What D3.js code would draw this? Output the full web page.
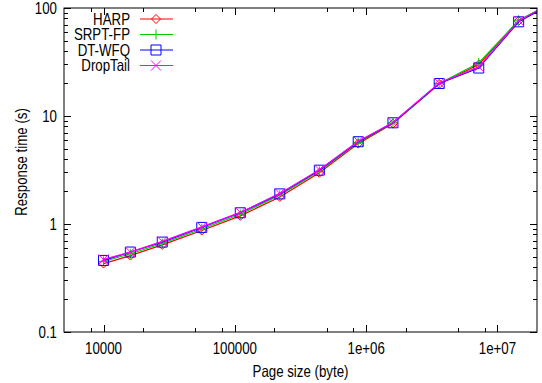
<!DOCTYPE html>
<html>
<head>
<meta charset="utf-8">
<script src="https://cdn.jsdelivr.net/npm/d3@7"></script>
<style>
  body { margin: 0; background: #fff; }
  svg { font-family: "Liberation Sans", Arial, sans-serif; }
</style>
</head>
<body>
<svg width="542" height="383"></svg>
<script>
// page sizes (bytes) and response times (s)
const pageSizes = [10000, 16000, 28000, 56000, 110000, 220000, 440000, 870000, 1600000, 3600000, 7200000, 14500000, 29000000];
const harp     = [0.43, 0.51, 0.64, 0.87, 1.19, 1.78, 2.98, 5.55, 8.50, 19.8, 30.0, 76.0, 120];
const srptFp   = [0.45, 0.53, 0.66, 0.90, 1.23, 1.85, 3.08, 5.70, 8.60, 20.0, 31.0, 77.0, 120];
const dtWfq    = [0.46, 0.55, 0.68, 0.93, 1.27, 1.90, 3.15, 5.78, 8.65, 20.0, 27.8, 74.5, 118];
const dropTail = [0.47, 0.55, 0.69, 0.94, 1.28, 1.92, 3.18, 5.85, 8.70, 20.2, 28.5, 76.0, 120];

const xTicks = [10000, 100000, 1e6, 1e7];
const xTickLabels = ['10000', '100000', '1e+06', '1e+07'];
const yTicks = [0.1, 1, 10, 100];
const yTickLabels = ['0.1', '1', '10', '100'];

const series = [
  {name: 'HARP', values: harp, color: '#ff0000', shape: 'diamond'},
  {name: 'SRPT-FP', values: srptFp, color: '#00cc00', shape: 'plus'},
  {name: 'DT-WFQ', values: dtWfq, color: '#0000ff', shape: 'square'},
  {name: 'DropTail', values: dropTail, color: '#ff00ff', shape: 'cross'}
];

const svg = d3.select('svg');
const margin = {left: 64, top: 8, right: 5, bottom: 51};
const width = +svg.attr('width') - margin.left - margin.right;
const height = +svg.attr('height') - margin.top - margin.bottom;

const xScale = d3.scaleLog().domain([5000, 2e7]).range([0, width]);
const yScale = d3.scaleLog().domain([0.1, 100]).range([height, 0]);

const g = svg.append('g').attr('transform', `translate(${margin.left},${margin.top})`);

g.append('clipPath').attr('id', 'clip')
  .append('rect').attr('width', width).attr('height', height);

// gnuplot-ish text: a bit narrow and tall
const label = (sel, x, y, txt, anchor, rot) => sel.append('text')
  .attr('transform', `translate(${x},${y})${rot ? ' rotate(' + rot + ')' : ''} scale(0.95,1.12)`)
  .attr('text-anchor', anchor).attr('font-size', 14).text(txt);

// minor ticks: x at 2,5,8 per decade, y at 2..9
const xMinor = [];
[1000, 10000, 100000, 1e6, 1e7].forEach(d => [2, 5, 8].forEach(m => {
  const v = d * m; if (v > 5000 && v < 2e7) xMinor.push(v);
}));
const yMinor = [];
[0.1, 1, 10].forEach(d => d3.range(2, 10).forEach(m => yMinor.push(d * m)));

const tickG = g.append('g').attr('stroke', '#000').attr('stroke-width', 1);
const bigT = 7, smallT = 4;
xTicks.concat(xMinor).forEach(v => {
  const len = xTicks.includes(v) ? bigT : smallT;
  const x = Math.round(xScale(v)) + 0.5;
  tickG.append('line').attr('x1', x).attr('x2', x).attr('y1', height).attr('y2', height - len);
  tickG.append('line').attr('x1', x).attr('x2', x).attr('y1', 0).attr('y2', len);
});
yTicks.concat(yMinor).forEach(v => {
  const len = yTicks.includes(v) ? bigT : smallT;
  const y = Math.round(yScale(v)) + 0.5;
  tickG.append('line').attr('y1', y).attr('y2', y).attr('x1', 0).attr('x2', len);
  tickG.append('line').attr('y1', y).attr('y2', y).attr('x1', width).attr('x2', width - len);
});

// tick labels
xTicks.forEach((d, i) => label(g, xScale(d), height + 22, xTickLabels[i], 'middle'));
yTicks.forEach((d, i) => label(g, -7, yScale(d) + 5.5, yTickLabels[i], 'end'));

label(g, width / 2, height + 45, 'Page size (byte)', 'middle');
label(g, -37, height / 2 - 8, 'Response time (s)', 'middle', -90);

// markers
const drawMarker = (sel, shape, color) => {
  if (shape === 'diamond') sel.append('path').attr('d', 'M0,-4.5L4.5,0L0,4.5L-4.5,0Z').attr('fill', 'none').attr('stroke', color);
  if (shape === 'plus') sel.append('path').attr('d', 'M-5,0H5M0,-5V5').attr('stroke', color);
  if (shape === 'square') sel.append('path').attr('d', 'M-5,-5H5V5H-5Z').attr('fill', 'none').attr('stroke', color);
  if (shape === 'cross') sel.append('path').attr('d', 'M-5,-5L5,5M-5,5L5,-5').attr('stroke', color);
};

const line = d3.line().x(d => xScale(d[0])).y(d => yScale(d[1]));
const plot = g.append('g').attr('clip-path', 'url(#clip)');
series.forEach(s => {
  const pts = pageSizes.map((p, i) => [p, s.values[i]]);
  plot.append('path').datum(pts).attr('d', line)
    .attr('fill', 'none').attr('stroke', s.color).attr('stroke-width', 1.2);
  pts.filter(p => p[0] <= 2e7).forEach(p => {
    const m = plot.append('g').attr('transform', `translate(${xScale(p[0])},${yScale(p[1])})`);
    drawMarker(m, s.shape, s.color);
  });
});

// frame
g.append('rect').attr('width', width).attr('height', height)
  .attr('fill', 'none').attr('stroke', '#000').attr('stroke-width', 1);

// legend
const leg = g.append('g');
series.forEach((s, i) => {
  const y = 11 + i * 15.5;
  label(leg, 66, y + 5.5, s.name, 'end');
  leg.append('line').attr('x1', 76).attr('x2', 109).attr('y1', y).attr('y2', y)
    .attr('stroke', s.color).attr('stroke-width', 1.2);
  drawMarker(leg.append('g').attr('transform', `translate(92,${y})`), s.shape, s.color);
});
</script>
</body>
</html>
